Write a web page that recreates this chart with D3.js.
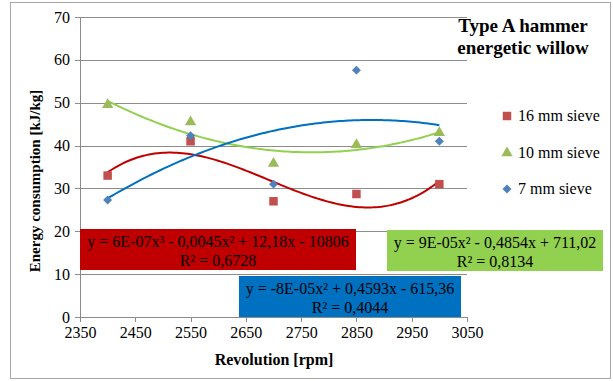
<!DOCTYPE html>
<html>
<meta charset="utf-8">
<head>
<style>
body { margin: 0; background: #fff; }
svg text { font-family: "Liberation Serif", "Times New Roman", serif; fill: #000; }
.grid line { stroke: #8c8c8c; stroke-width: 1; shape-rendering: crispEdges; }
.axis path, .axis line { fill: none; stroke: #8c8c8c; stroke-width: 1; shape-rendering: crispEdges; }
</style>
<script src="https://d3js.org/d3.v7.min.js"></script>
</head>
<body>
<script>
// data
var revolution = [2400, 2550, 2700, 2850, 3000];
var sieve16 = [33.0, 41.0, 27.0, 28.7, 31.0];
var sieve10 = [49.5, 45.5, 35.8, 40.2, 43.0];
var sieve7  = [27.3, 42.3, 31.0, 57.6, 41.0];
var xTicks = [2350, 2450, 2550, 2650, 2750, 2850, 2950, 3050];
var yTicks = [0, 10, 20, 30, 40, 50, 60, 70];
var seriesNames = ["16 mm sieve", "10 mm sieve", "7 mm sieve"];
var eqText16 = ["y = 6E-07x³ - 0,0045x² + 12,18x - 10806", "R² = 0,6728"];
var eqText10 = ["y = 9E-05x² - 0,4854x + 711,02", "R² = 0,8134"];
var eqText7  = ["y = -8E-05x² + 0,4593x - 615,36", "R² = 0,4044"];

var W = 613, H = 381;
var FONT = "Liberation Serif, Times New Roman, serif";
var svg = d3.select("body").append("svg").attr("width", W).attr("height", H);

// chart frame
svg.append("rect").attr("x", 10.5).attr("y", 2.5).attr("width", W - 13).attr("height", H - 5)
    .attr("fill", "#fff").attr("stroke", "#a6a6a6");

var x = d3.scaleLinear().domain([2350, 3050]).range([80, 467]);
var y = d3.scaleLinear().domain([0, 70]).range([317, 17]);

// grid
svg.append("g").attr("class", "grid")
    .selectAll("line").data(yTicks.filter(function(d) { return d > 0; }))
    .enter().append("line")
    .attr("x1", x(2350)).attr("x2", x(3050))
    .attr("y1", function(d) { return Math.round(y(d)) + 0.5; })
    .attr("y2", function(d) { return Math.round(y(d)) + 0.5; });

svg.append("g").attr("class", "axis")
    .attr("transform", "translate(0," + y(0) + ")")
    .attr("font-family", FONT).attr("font-size", 16)
    .call(d3.axisBottom(x).tickValues(xTicks).tickSize(5).tickPadding(5).tickFormat(d3.format("d")));

svg.append("g").attr("class", "axis")
    .attr("transform", "translate(" + x(2350) + ",0)")
    .attr("font-family", FONT).attr("font-size", 16)
    .call(d3.axisLeft(y).tickValues(yTicks).tickSize(5).tickPadding(5));

svg.selectAll(".axis text").attr("fill", "#000").style("font-family", FONT).style("font-size", "16px");

// least-squares polynomial (trendline as Excel does it)
function polyfit(xs, ys, deg) {
    var n = deg + 1, A = [], b = [];
    var t = xs.map(function(v) { return (v - 2700) / 300; });
    for (var i = 0; i < n; i++) {
        A.push([]);
        for (var j = 0; j < n; j++) A[i].push(d3.sum(t, function(v) { return Math.pow(v, i + j); }));
        b.push(d3.sum(t, function(v, k) { return Math.pow(v, i) * ys[k]; }));
    }
    for (var c = 0; c < n; c++) {
        for (var r = c + 1; r < n; r++) {
            var f = A[r][c] / A[c][c];
            for (var k = c; k < n; k++) A[r][k] -= f * A[c][k];
            b[r] -= f * b[c];
        }
    }
    var co = new Array(n);
    for (var r2 = n - 1; r2 >= 0; r2--) {
        var s = b[r2];
        for (var k2 = r2 + 1; k2 < n; k2++) s -= A[r2][k2] * co[k2];
        co[r2] = s / A[r2][r2];
    }
    return function(xv) {
        var tv = (xv - 2700) / 300, out = 0;
        for (var i2 = 0; i2 < n; i2++) out += co[i2] * Math.pow(tv, i2);
        return out;
    };
}

// square diamond (rotated square) instead of d3's tall one
var squareDiamond = {
    draw: function(ctx, size) {
        var r = Math.sqrt(size / 2);
        ctx.moveTo(0, -r); ctx.lineTo(r, 0); ctx.lineTo(0, r); ctx.lineTo(-r, 0); ctx.closePath();
    }
};

var series = [
    { vals: sieve16, deg: 3, line: "#c00000", mark: "#c0504d", sym: d3.symbolSquare, size: 72 },
    { vals: sieve10, deg: 2, line: "#92d050", mark: "#9bbb59", sym: d3.symbolTriangle, size: 55 },
    { vals: sieve7,  deg: 2, line: "#0070c0", mark: "#4f81bd", sym: squareDiamond, size: 40 }
];

var lineGen = d3.line().x(function(d) { return x(d[0]); }).y(function(d) { return y(d[1]); });

series.forEach(function(s) {
    var fn = polyfit(revolution, s.vals, s.deg);
    var pts = d3.range(2400, 3000.1, 5).map(function(v) { return [v, fn(v)]; });
    svg.append("path").attr("d", lineGen(pts)).attr("fill", "none")
        .attr("stroke", s.line).attr("stroke-width", 2);
});

series.forEach(function(s) {
    svg.append("g").selectAll("path").data(s.vals).enter().append("path")
        .attr("d", d3.symbol().type(s.sym).size(s.size))
        .attr("transform", function(d, i) { return "translate(" + x(revolution[i]) + "," + y(d) + ")"; })
        .attr("fill", s.mark);
});

// equation labels
function eqBox(x0, y0, w, h, color, lines) {
    svg.append("rect").attr("x", x0).attr("y", y0).attr("width", w).attr("height", h).attr("fill", color);
    lines.forEach(function(t, i) {
        svg.append("text").attr("x", x0 + w / 2).attr("y", y0 + 18 + i * 19)
            .attr("text-anchor", "middle").style("font-size", "16px").text(t);
    });
}
eqBox(80, 229, 276, 41, "#c00000", eqText16);
eqBox(387, 230, 216, 41, "#92d050", eqText10);
eqBox(239, 276, 222, 41, "#0070c0", eqText7);

// legend
var legendY = [116, 153, 189];
series.forEach(function(s, i) {
    svg.append("path").attr("d", d3.symbol().type(s.sym).size(s.size))
        .attr("transform", "translate(507," + legendY[i] + ")").attr("fill", s.mark);
    svg.append("text").attr("x", 518).attr("y", legendY[i] + 5).style("font-size", "16px").text(seriesNames[i]);
});

// title
var title = svg.append("text").attr("text-anchor", "middle").style("font-size", "19px").style("font-weight", "bold");
title.append("tspan").attr("x", 523).attr("y", 32).text("Type A hammer");
title.append("tspan").attr("x", 523).attr("y", 54).text("energetic willow");

// axis titles
svg.append("text").attr("x", 274).attr("y", 365).attr("text-anchor", "middle")
    .style("font-size", "16px").style("font-weight", "bold").text("Revolution [rpm]");
svg.append("text").attr("transform", "translate(40,181) rotate(-90)").attr("text-anchor", "middle")
    .style("font-size", "15px").style("font-weight", "bold").text("Energy  consumption  [kJ/kg]");
</script>
</body>
</html>
